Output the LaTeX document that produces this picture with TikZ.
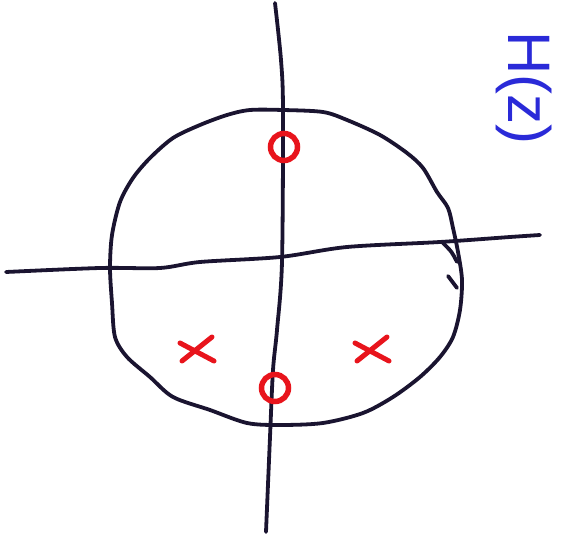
\documentclass[tikz,border=0pt]{standalone}
\usepackage{fontspec}
\setsansfont{Liberation Sans}
\usetikzlibrary{calc}

\definecolor{inkblack}{HTML}{1A1430}
\definecolor{inkred}{HTML}{E8141C}
\definecolor{inkblue}{HTML}{2A2AD8}

\begin{document}
\begin{tikzpicture}[
    x=1pt, y=-1pt,
    axis/.style={draw=inkblack, line width=3.8pt, line cap=round, line join=round},
    unit/.style={draw=inkblack, line width=3.8pt, line cap=round, line join=round},
    zero/.style={circle, draw=inkred, line width=5.5pt, minimum size=27pt, inner sep=0pt},
    pole/.style={inkred, line width=5pt, line cap=round},
    label/.style={text=inkblue, font=\sffamily\fontsize{60}{60}\selectfont, rotate=-90}
]
    \useasboundingbox (0,0) rectangle (563,537);

    % real and imaginary axes
    \draw[axis] plot[smooth, tension=0.5] coordinates {
        (6,272) (100,268) (160,268) (200,262) (280,257) (347,247)
        (440,242) (510,237) (540,235)};
    \draw[axis] plot[smooth, tension=0.5] coordinates {
        (275,3) (281,60) (283,110) (282,262) (277,330) (273,370)
        (270,437) (266,532)};

    % unit circle
    \draw[unit] plot[smooth cycle, tension=0.5] coordinates {
        (110,268) (112,235) (120,202) (133,178) (150,158) (173,138)
        (200,125) (227,115) (250,110) (283,110) (323,112) (347,120)
        (380,135) (407,153) (423,168) (437,192) (448,208) (453,228)
        (458,252) (462,280) (460,310) (453,337) (440,357) (420,377)
        (393,397) (363,413) (323,423) (280,425) (247,423) (210,410)
        (173,397) (150,377) (127,357) (115,337) (112,303)};
    \draw[unit] (443,243) .. controls (452,252) .. (457,262);
    \draw[unit] (448,276) -- (457,288);

    % zeros
    \node[zero] (z1) at (284,147) {};
    \node[zero] (z2) at (275,388) {};

    % poles
    \coordinate (p1) at (197,350);
    \coordinate (p2) at (372,350);
    \foreach \p in {p1,p2} {
        \draw[pole] ($(\p)+(-17,-7)$) -- ($(\p)+(17,11)$);
        \draw[pole] ($(\p)+(-15,11)$) -- ($(\p)+(15,-13)$);
    }

    \node[label] (hz) at (524,88) {H(z)};
\end{tikzpicture}
\end{document}
